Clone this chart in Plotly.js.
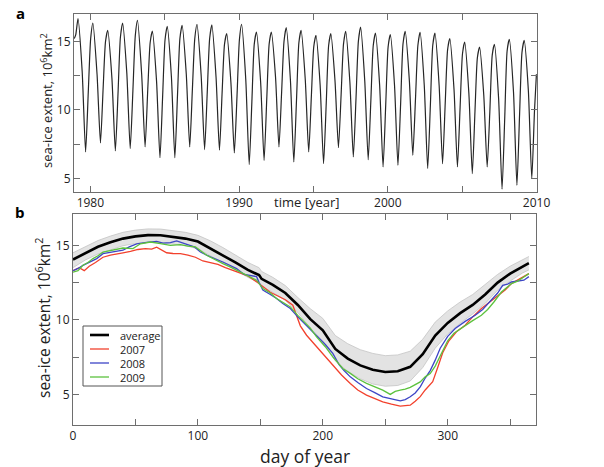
<!DOCTYPE html>
<html>
<head>
<meta charset="utf-8">
<script src="https://cdn.plot.ly/plotly-3.0.1.min.js"></script>
<style>
  body { margin: 0; background: #fff; }
  #chart { width: 604px; height: 467px; }
</style>
</head>
<body>
<div id="chart"></div>
<script>
// ---- panel a: monthly sea-ice extent 1979-2009 (10^6 km^2), read at 5 points per year
const years = [1979, 1980, 1981, 1982, 1983, 1984, 1985, 1986, 1987, 1988, 1989, 1990, 1991, 1992, 1993, 1994,
  1995, 1996, 1997, 1998, 1999, 2000, 2001, 2002, 2003, 2004, 2005, 2006, 2007, 2008, 2009];
const janExtent = [15.5, 15.2, 15.0, 15.3, 15.4, 14.9, 15.1, 15.2, 15.2, 15.2, 14.8, 15.1, 14.8, 14.8, 15.0, 14.9,
  14.6, 14.7, 14.8, 15.0, 14.7, 14.6, 14.8, 14.7, 14.7, 14.4, 14.1, 13.8, 14.0, 14.3, 14.2];
const marExtent = [16.66, 16.34, 15.8, 16.34, 16.53, 15.75, 16.1, 16.17, 16.24, 16.2, 15.56, 16.24, 15.68, 15.68, 16.0, 15.8,
  15.44, 15.56, 15.73, 16.04, 15.6, 15.49, 15.73, 15.66, 15.6, 15.2, 14.95, 14.58, 14.78, 15.15, 15.07];
const junExtent = [12.8, 12.6, 12.3, 12.7, 12.6, 12.1, 12.4, 12.6, 12.5, 12.4, 12.0, 12.2, 12.0, 12.4, 12.2, 12.2,
  11.8, 12.1, 12.0, 12.1, 11.8, 11.8, 12.1, 11.8, 11.8, 11.5, 11.2, 11.1, 10.8, 11.3, 11.4];
const sepExtent = [6.92, 7.58, 7.0, 7.17, 7.29, 6.5, 6.5, 7.29, 7.1, 7.05, 6.85, 6.0, 6.31, 7.29, 6.19, 6.92,
  6.07, 7.24, 6.56, 6.36, 5.83, 5.95, 6.68, 5.71, 6.07, 5.83, 5.34, 5.83, 4.2, 4.49, 4.98];
const novExtent = [11.3, 11.6, 11.2, 11.4, 11.5, 11.0, 11.1, 11.5, 11.3, 11.3, 11.0, 10.6, 10.8, 11.3, 10.7, 11.0,
  10.5, 11.1, 10.8, 10.7, 10.4, 10.4, 10.8, 10.3, 10.5, 10.2, 9.9, 9.9, 9.4, 9.7, 9.9];
const seasonPos = [0.02, 0.17, 0.45, 0.68, 0.86]; // where in the year each sample sits
const firstPoint = { t: 1978.92, v: 15.2 };
const lastPoint = { t: 2009.99, v: 12.6 };

// ---- panel b: daily extent by day of year
const avgDays = [0, 10, 20, 30, 40, 50, 60, 70, 80, 90, 100, 110, 120, 130, 140, 149, 151, 160, 170, 180, 190, 200,
  210, 220, 230, 240, 250, 260, 270, 280, 290, 300, 310, 320, 330, 340, 350, 360, 365];
const avgExtent = [14.05, 14.5, 14.9, 15.2, 15.45, 15.6, 15.68, 15.67, 15.57, 15.45, 15.25, 14.8, 14.35, 13.85, 13.35,
  13.0, 12.75, 12.35, 11.8, 11.0, 10.05, 9.3, 8.05, 7.4, 6.95, 6.65, 6.5, 6.55, 6.85, 7.7, 8.95, 9.8, 10.45, 11.0,
  11.7, 12.5, 13.1, 13.6, 13.8];
const bandHigh = [14.5, 14.92, 15.32, 15.62, 15.87, 16.02, 16.1, 16.09, 15.99, 15.87, 15.67, 15.3, 14.85, 14.35, 13.85,
  13.5, 13.25, 12.85, 12.3, 11.5, 10.75, 10.1, 8.95, 8.4, 8.0, 7.75, 7.6, 7.65, 7.9, 8.7, 9.85, 10.6, 11.2, 11.7,
  12.35, 13.05, 13.6, 14.05, 14.25];
const bandLow = [13.5, 14.02, 14.42, 14.72, 14.97, 15.12, 15.2, 15.19, 15.09, 14.97, 14.77, 14.3, 13.85, 13.35, 12.85,
  12.5, 12.25, 11.85, 11.3, 10.5, 9.45, 8.6, 7.25, 6.55, 6.05, 5.7, 5.55, 5.6, 5.9, 6.8, 8.1, 9.05, 9.77, 10.4,
  11.1, 12.0, 12.6, 13.15, 13.35];

const days2007 = [0, 5, 9, 13, 18, 24, 30, 35, 40, 46, 52, 58, 63, 67, 70, 75, 80, 86, 92, 98, 104, 110, 116, 122,
  128, 134, 140, 147, 153, 158, 164, 170, 176, 179, 182, 187, 194, 200, 208, 215, 222, 228, 235, 242, 248, 255,
  262, 266, 270, 274, 278, 282, 288, 292, 296, 301, 307, 314, 320, 327, 334, 341, 346, 351, 356, 361, 365];
const ext2007 = [13.3, 13.5, 13.3, 13.6, 13.85, 14.2, 14.35, 14.45, 14.5, 14.6, 14.72, 14.78, 14.75, 14.88, 14.72,
  14.5, 14.45, 14.44, 14.35, 14.2, 13.95, 13.85, 13.72, 13.5, 13.3, 13.1, 12.95, 12.55, 12.2, 11.85, 11.6, 11.35,
  10.98, 10.3, 9.6, 8.97, 8.3, 7.7, 6.9, 6.3, 5.74, 5.3, 4.95, 4.7, 4.5, 4.35, 4.22, 4.25, 4.28, 4.55, 4.85, 5.3,
  5.85, 6.8, 7.8, 8.6, 9.2, 9.64, 10.2, 10.76, 11.2, 11.65, 12.0, 12.43, 12.65, 12.88, 13.1];

const days2008 = [0, 4, 8, 14, 19, 24, 32, 40, 45, 51, 59, 67, 72, 78, 83, 90, 97, 102, 110, 120, 131, 137, 142,
  147, 149, 152, 158, 163, 168, 174, 180, 184, 190, 195, 202, 208, 213, 217, 222, 228, 235, 242, 248, 255, 262,
  266, 270, 274, 278, 282, 286, 290, 294, 300, 306, 314, 322, 328, 335, 340, 344, 348, 351, 356, 361, 365];
const ext2008 = [13.3, 13.45, 13.66, 13.9, 14.11, 14.44, 14.55, 14.67, 14.9, 15.1, 15.2, 15.27, 15.15, 15.18, 15.3,
  15.1, 14.9, 14.55, 14.22, 13.88, 13.44, 13.05, 12.95, 12.9, 12.5, 12.0, 11.7, 11.43, 11.1, 10.76, 10.2, 9.86,
  9.35, 8.97, 8.35, 7.75, 7.0, 6.6, 6.18, 5.8, 5.4, 5.1, 4.84, 4.7, 4.57, 4.65, 4.84, 5.1, 5.51, 6.1, 6.6, 7.3,
  8.1, 8.9, 9.42, 9.9, 10.31, 10.7, 11.32, 11.8, 12.32, 12.4, 12.54, 12.6, 12.66, 12.9];

const days2009 = [0, 4, 8, 12, 16, 20, 24, 32, 40, 48, 54, 62, 66, 70, 78, 86, 92, 98, 107, 113, 120, 127, 134,
  140, 147, 152, 158, 163, 168, 174, 180, 184, 190, 195, 202, 208, 212, 216, 222, 228, 235, 242, 248, 254, 258,
  262, 266, 270, 274, 278, 282, 286, 290, 295, 300, 305, 314, 320, 327, 332, 337, 343, 351, 356, 361, 365];
const ext2009 = [13.2, 13.3, 13.66, 13.85, 14.11, 14.3, 14.55, 14.67, 14.82, 14.78, 15.1, 15.22, 15.15, 15.11, 15.0,
  15.04, 14.95, 14.89, 14.33, 14.05, 13.77, 13.5, 13.21, 12.95, 12.66, 12.1, 11.8, 11.43, 11.15, 10.87, 10.3, 9.98,
  9.45, 8.86, 8.2, 7.52, 7.1, 6.74, 6.41, 6.05, 5.74, 5.5, 5.29, 5.0, 5.2, 5.29, 5.35, 5.47, 5.65, 5.84, 6.18,
  6.4, 6.9, 7.8, 8.6, 9.1, 9.64, 9.95, 10.31, 10.7, 11.2, 11.87, 12.43, 12.6, 12.88, 13.1];

const legendNames = ["average", "2007", "2008", "2009"];
const legendColors = ["#000", "#f2412d", "#3d45c6", "#5cc23e"];

// build the panel a series in time order
const topT = [firstPoint.t];
const topV = [firstPoint.v];
const perYear = [janExtent, marExtent, junExtent, sepExtent, novExtent];
years.forEach((yr, i) => {
  seasonPos.forEach((p, k) => {
    topT.push(yr + p);
    topV.push(perYear[k][i]);
  });
});
topT.push(lastPoint.t);
topV.push(lastPoint.v);

const W = 604, H = 467;
const px = (x) => x / W;
const py = (y) => (H - y) / H;

const FONT = "Open Sans, Noto Sans, sans-serif";
const AX = "#6e6e6e";

const traces = [
  {
    x: topT, y: topV, type: "scatter", mode: "lines",
    line: { color: "#262626", width: 1.2, shape: "spline", smoothing: 0.6 },
    xaxis: "x", yaxis: "y",
  },
  {
    x: avgDays, y: bandLow, type: "scatter", mode: "lines",
    line: { color: "#c4c4c4", width: 0.8 }, xaxis: "x2", yaxis: "y2",
  },
  {
    x: avgDays, y: bandHigh, type: "scatter", mode: "lines", fill: "tonexty",
    fillcolor: "#e3e3e3", line: { color: "#c4c4c4", width: 0.8 }, xaxis: "x2", yaxis: "y2",
  },
  {
    x: days2007, y: ext2007, type: "scatter", mode: "lines",
    line: { color: legendColors[1], width: 1.3 }, xaxis: "x2", yaxis: "y2",
  },
  {
    x: days2008, y: ext2008, type: "scatter", mode: "lines",
    line: { color: legendColors[2], width: 1.3 }, xaxis: "x2", yaxis: "y2",
  },
  {
    x: days2009, y: ext2009, type: "scatter", mode: "lines",
    line: { color: legendColors[3], width: 1.3 }, xaxis: "x2", yaxis: "y2",
  },
  {
    x: avgDays, y: avgExtent, type: "scatter", mode: "lines",
    line: { color: legendColors[0], width: 2.6 }, xaxis: "x2", yaxis: "y2",
  },
];

const axisBase = {
  showline: true, mirror: "allticks", linecolor: AX, linewidth: 1,
  ticks: "inside", ticklen: 6, tickcolor: AX, tickwidth: 1,
  showgrid: false, zeroline: false,
  tickfont: { family: FONT, size: 12, color: "#222" },
};

// hand-drawn legend box (Plotly's own legend rows are too tall for this figure)
const legendShapes = [
  { type: "rect", xref: "paper", yref: "paper", x0: px(83), x1: px(162), y0: py(326), y1: py(386),
    line: { color: "#555", width: 1 }, fillcolor: "#fff", layer: "above" },
];
const legendRows = [335, 349, 363, 377];
const legendAnn = [];
legendNames.forEach((name, i) => {
  legendShapes.push({
    type: "line", xref: "paper", yref: "paper", x0: px(90), x1: px(109), y0: py(legendRows[i]), y1: py(legendRows[i]),
    line: { color: legendColors[i], width: i === 0 ? 2.6 : 1.3 }, layer: "above",
  });
  legendAnn.push({
    text: name, x: px(118), y: py(legendRows[i]), xref: "paper", yref: "paper",
    xanchor: "left", yanchor: "middle", showarrow: false,
    font: { size: 11, family: FONT, color: "#222" },
  });
});

function label(text, x, y, size, extra) {
  return Object.assign({
    text: text, x: px(x), y: py(y), xref: "paper", yref: "paper",
    xanchor: "center", yanchor: "middle", showarrow: false,
    font: { size: size, family: FONT, color: "#222" },
  }, extra || {});
}

const layout = {
  width: W, height: H,
  margin: { l: 0, r: 0, t: 0, b: 0 },
  paper_bgcolor: "#fff", plot_bgcolor: "#fff",
  font: { family: FONT, color: "#222" },
  showlegend: false,
  xaxis: Object.assign({}, axisBase, {
    domain: [px(74), px(537)], anchor: "y",
    range: [1978.9, 2010.03], tickvals: [1980, 1990, 2000, 2010],
    minor: { tickvals: [1985, 1995, 2005], ticks: "inside", ticklen: 6, tickcolor: AX },
  }),
  yaxis: Object.assign({}, axisBase, {
    domain: [py(192), py(14)], anchor: "x",
    range: [4, 17], tickvals: [5, 10, 15],
    minor: { tickvals: [7.5, 12.5], ticks: "inside", ticklen: 6, tickcolor: AX },
  }),
  xaxis2: Object.assign({}, axisBase, {
    domain: [px(73), px(536)], anchor: "y2",
    range: [0, 370.7], tickvals: [0, 100, 200, 300],
    minor: { tickvals: [50, 150, 250, 350], ticks: "inside", ticklen: 6, tickcolor: AX },
  }),
  yaxis2: Object.assign({}, axisBase, {
    domain: [py(425), py(214)], anchor: "x2",
    range: [2.95, 17.1], tickvals: [5, 10, 15],
    minor: { tickvals: [7.5, 12.5], ticks: "inside", ticklen: 6, tickcolor: AX },
  }),
  shapes: legendShapes,
  annotations: [
    label("<b>a</b>", 20, 13, 15, { font: { size: 15, family: FONT, color: "#000" } }),
    label("<b>b</b>", 20, 212, 15, { font: { size: 15, family: FONT, color: "#000" } }),
    label("sea-ice extent, 10<sup>6</sup>km<sup>2</sup>", 47, 101, 13, { textangle: -90 }),
    label("time [year]", 306, 202, 13),
    label("sea-ice extent, 10<sup>6</sup>km<sup>2</sup>", 43, 318, 15.5, { textangle: -90 }),
    label("day of year", 305, 456, 17.5),
  ].concat(legendAnn),
};

Plotly.newPlot("chart", traces, layout, { displayModeBar: false, staticPlot: true });
</script>
</body>
</html>
